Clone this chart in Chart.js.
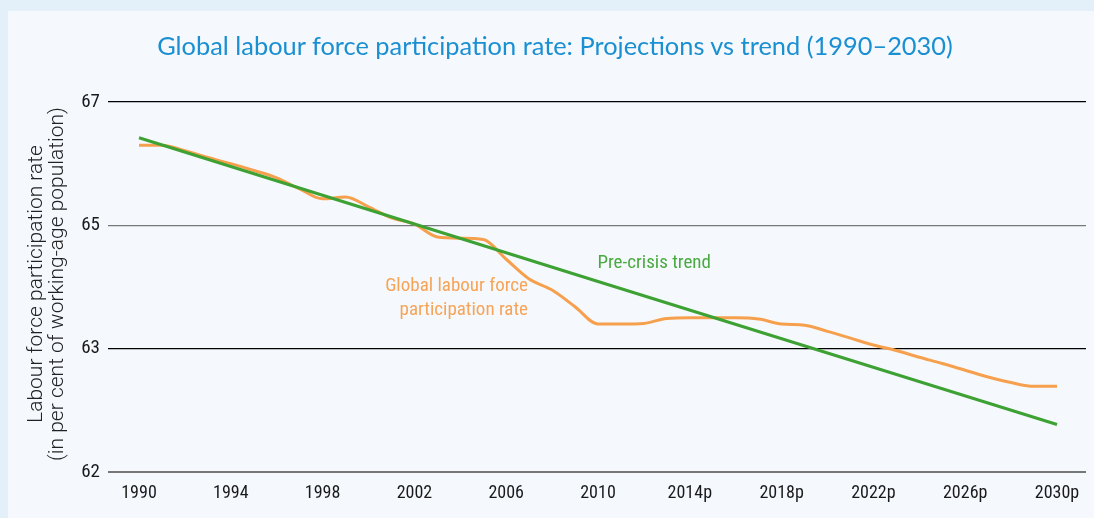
<!DOCTYPE html>
<html>
<head>
<meta charset="utf-8">
<script src="https://cdn.jsdelivr.net/npm/chart.js@4/dist/chart.umd.min.js"></script>
<style>
  html, body { margin: 0; padding: 0; }
  body { width: 1094px; height: 518px; background: #e3f0fa; position: relative; overflow: hidden; }
  #panel { position: absolute; left: 8px; top: 11px; width: 1086px; height: 507px; background: #f5f9fe; }
  #title { position: absolute; left: 8px; top: 30px; width: 1094px; text-align: center;
           font-family: Lato, "Noto Sans", sans-serif; font-size: 25.4px; color: #1a8fd2; white-space: nowrap; }
  #wrap { position: absolute; left: 8px; top: 11px; width: 1086px; height: 507px; }
</style>
</head>
<body>
<div id="panel"></div>
<div id="wrap"><canvas id="c"></canvas></div>
<div id="title">Global labour force participation rate: Projections vs trend (1990–2030)</div>
<script>
// ---- data ----
const years = [1990,1991,1992,1993,1994,1995,1996,1997,1998,1999,2000,2001,2002,2003,2004,2005,2006,2007,2008,2009,2010,
               2011,2012,2013,2014,2015,2016,2017,2018,2019,2020,2021,2022,2023,2024,2025,2026,2027,2028,2029,2030];
const participationRate = [66.30,66.30,66.21,66.10,66.00,65.89,65.77,65.59,65.43,65.46,65.30,65.12,65.02,64.81,64.79,64.77,64.45,64.13,63.95,63.68,63.40,
                           63.40,63.41,63.49,63.50,63.50,63.50,63.48,63.40,63.38,63.28,63.17,63.06,62.97,62.86,62.76,62.65,62.54,62.45,62.39,62.39];
const trendYears = [1990, 2010, 2030];
const preCrisisTrend = [66.42, 64.09, 61.77];
const xTickValues = [1990,1994,1998,2002,2006,2010,2014,2018,2022,2026,2030];
const xTickLabels = ["1990","1994","1998","2002","2006","2010","2014p","2018p","2022p","2026p","2030p"];
const yTickValues = [61, 63, 65, 67];
const yTickLabels = ["62", "63", "65", "67"];
const yTickLineColors = ["#777777", "#000000", "#777777", "#000000"];

const ORANGE = "#f6a04d";
const GREEN = "#3ea133";
const COND = '"Roboto Condensed", "Open Sans", sans-serif';

const annotations = {
  id: 'annotations',
  afterDraw(chart) {
    const ctx = chart.ctx, xs = chart.scales.x, ys = chart.scales.y;
    ctx.save();
    ctx.font = '19px ' + COND;
    ctx.textBaseline = 'middle';
    ctx.fillStyle = '#4aa940';
    ctx.textAlign = 'center';
    ctx.fillText('Pre-crisis trend', xs.getPixelForValue(2012.45), ys.getPixelForValue(64.39));
    ctx.fillStyle = '#f6a457';
    ctx.textAlign = 'right';
    ctx.fillText('Global labour force', xs.getPixelForValue(2006.95), ys.getPixelForValue(64.02));
    ctx.fillText('participation rate', xs.getPixelForValue(2006.95), ys.getPixelForValue(63.62));
    // y axis title
    const cy = (chart.chartArea.top + chart.chartArea.bottom) / 2 - 3;
    ctx.fillStyle = '#222222';
    ctx.font = '300 21px Roboto, "Liberation Sans", sans-serif';
    ctx.textAlign = 'center';
    ctx.translate(0, cy);
    ctx.rotate(-Math.PI / 2);
    ctx.fillText('Labour force participation rate', 0, 29);
    ctx.fillText('(in per cent of working-age population)', 0, 50);
    ctx.restore();
  }
};

new Chart(document.getElementById('c'), {
  type: 'line',
  data: {
    datasets: [
      {
        label: 'Pre-crisis trend',
        data: trendYears.map((x, i) => ({ x, y: preCrisisTrend[i] })),
        borderColor: GREEN, borderWidth: 3, pointRadius: 0, tension: 0, order: 1
      },
      {
        label: 'Global labour force participation rate',
        data: years.map((x, i) => ({ x, y: participationRate[i] })),
        borderColor: ORANGE, borderWidth: 3, pointRadius: 0,
        cubicInterpolationMode: 'monotone', order: 2
      }
    ]
  },
  options: {
    responsive: true, maintainAspectRatio: false, animation: false,
    layout: { padding: { top: 91, right: 8, left: 0, bottom: 0 } },
    plugins: { legend: { display: false }, tooltip: { enabled: false }, title: { display: false } },
    scales: {
      x: {
        type: 'linear', min: 1988.649, max: 2031.264,
        afterFit(s) { s.height = 46; },
        afterBuildTicks(s) { s.ticks = xTickValues.map(v => ({ value: v })); },
        grid: { display: false, drawTicks: false },
        border: { display: false },
        ticks: {
          autoSkip: false, maxRotation: 0, padding: 11, color: '#1a1a1a',
          font: { family: COND, size: 18 },
          callback(v) { const i = xTickValues.indexOf(v); return i >= 0 ? xTickLabels[i] : ''; }
        }
      },
      y: {
        type: 'linear', min: 61, max: 67,
        afterFit(s) { s.width = 100; },
        afterBuildTicks(s) { s.ticks = yTickValues.map(v => ({ value: v })); },
        border: { display: false },
        grid: {
          drawTicks: false,
          color(ctx) { const i = yTickValues.indexOf(ctx.tick.value); return i >= 0 ? yTickLineColors[i] : '#000'; },
          lineWidth(ctx) { return ctx.tick.value === 61 ? 2 : 1.2; }
        },
        ticks: {
          padding: 8, color: '#1a1a1a',
          font: { family: COND, size: 19 },
          callback(v) { const i = yTickValues.indexOf(v); return i >= 0 ? yTickLabels[i] : ''; }
        }
      }
    }
  },
  plugins: [annotations]
});
</script>
</body>
</html>
